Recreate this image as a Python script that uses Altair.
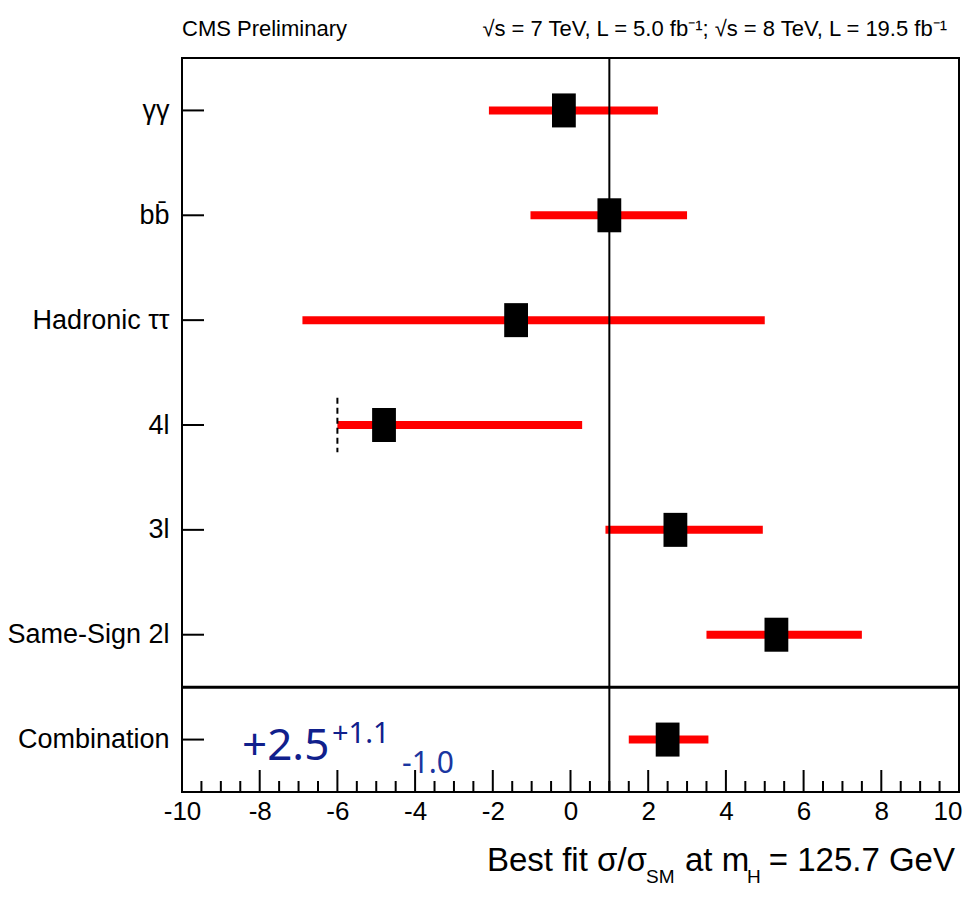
import json
import altair as alt
import pandas as pd

# ---- data ----
channels = ["γγ", "bb\u0304", "Hadronic ττ", "4l", "3l", "Same-Sign 2l", "Combination"]
best_fit = [-0.17, 1.0, -1.4, -4.8, 2.7, 5.3, 2.5]
err_low = [-2.1, -1.03, -6.9, -6.0, 0.9, 3.5, 1.5]
err_high = [2.25, 3.0, 5.0, 0.3, 4.95, 7.5, 3.55]
rows = list(range(len(channels)))

x_major = list(range(-10, 11, 2))
x_minor = [v / 2 for v in range(-20, 21) if v % 4 != 0]
sm_value = [1.0]
separator_row = [5.5]
limit_x = [-6.0]
limit_row = [3]

FONT = "Liberation Sans, Arial, Helvetica, sans-serif"
BLUE_FONT = "Noto Sans, Open Sans, sans-serif"

df = pd.DataFrame({"row": rows, "channel": channels, "best": best_fit,
                   "lo": err_low, "hi": err_high})

XS = alt.Scale(domain=[-10, 10], nice=False, zero=False)
YS = alt.Scale(domain=[-0.5, 6.5], reverse=True, nice=False, zero=False)

label_expr = json.dumps(channels, ensure_ascii=False) + "[datum.value]"
last_tick = x_major[-1]

base = alt.Chart(df)

bars = base.mark_rule(color="#ff0000", strokeWidth=8, strokeCap="butt").encode(
    x=alt.X("lo:Q", scale=XS,
            axis=alt.Axis(values=x_major, labelExpr="toString(datum.value)",
                          ticks=False, domain=False, grid=False, title=None,
                          labelFlush=False, labelOverlap=False,
                          labelAlign={"condition": {"test": f"datum.value == {last_tick}", "value": "right"},
                                      "value": "center"},
                          labelOffset={"condition": {"test": f"datum.value == {last_tick}", "value": 3},
                                       "value": 0},
                          labelFont=FONT, labelFontSize=26, labelPadding=6,
                          labelColor="black", labelFontWeight="normal")),
    x2="hi:Q",
    y=alt.Y("row:Q", scale=YS,
            axis=alt.Axis(values=rows, labelExpr=label_expr, ticks=False,
                          domain=False, grid=False, title=None, labelLimit=0,
                          labelFont=FONT, labelFontSize=27, labelPadding=13,
                          labelColor="black", labelFontWeight="normal")),
)

squares = base.mark_point(shape="M-0.7,-1H0.7V1H-0.7Z", filled=True, size=1156,
                          color="black", opacity=1).encode(
    x=alt.X("best:Q", scale=XS), y=alt.Y("row:Q", scale=YS))

ytick_len = 22 / 38.85
yticks = base.mark_rule(color="black", strokeWidth=2).encode(
    x=alt.datum(-10, scale=XS), x2=alt.datum(-10 + ytick_len),
    y=alt.Y("row:Q", scale=YS))

major_df = pd.DataFrame({"v": x_major})
minor_df = pd.DataFrame({"v": x_minor})
major_ticks = alt.Chart(major_df).mark_rule(color="black", strokeWidth=2).encode(
    x=alt.X("v:Q", scale=XS), y=alt.datum(6.5, scale=YS), y2=alt.datum(6.5 - 22 / 104.857))
minor_ticks = alt.Chart(minor_df).mark_rule(color="black", strokeWidth=2).encode(
    x=alt.X("v:Q", scale=XS), y=alt.datum(6.5, scale=YS), y2=alt.datum(6.5 - 11 / 104.857))

sm_line = alt.Chart(pd.DataFrame({"v": sm_value})).mark_rule(color="black", strokeWidth=2).encode(
    x=alt.X("v:Q", scale=XS))
sep_line = alt.Chart(pd.DataFrame({"r": separator_row})).mark_rule(color="black", strokeWidth=3).encode(
    y=alt.Y("r:Q", scale=YS))

limit = alt.Chart(pd.DataFrame({"x": limit_x, "r": limit_row})).mark_rule(
    color="black", strokeWidth=2, strokeDash=[6, 4]).encode(
    x=alt.X("x:Q", scale=XS),
    y=alt.Y("lo_r:Q", scale=YS), y2="hi_r:Q").transform_calculate(
    lo_r="datum.r - 0.26", hi_r="datum.r + 0.26")


def label(text, x, y, size, font=FONT, color="black", align="left"):
    return alt.Chart(pd.DataFrame({"t": [text]})).mark_text(
        font=font, fontSize=size, color=color, align=align, baseline="alphabetic"
    ).encode(text="t:N", x=alt.value(x), y=alt.value(y))


texts = [
    label("CMS Preliminary", 0, -22, 22),
    label("√s = 7 TeV, L = 5.0 fb⁻¹; √s = 8 TeV, L = 19.5 fb⁻¹", 765, -22, 22, align="right"),
    label("Best fit σ/σ", 305, 813, 33),
    label("SM", 464, 825, 19),
    label("at m", 503, 813, 33),
    label("H", 565, 825, 19),
    label("= 125.7 GeV", 773, 813, 33, align="right"),
    label("+2.5", 60, 702, 44, font=BLUE_FONT, color="#10208c"),
    label("+1.1", 150, 685, 29, font=BLUE_FONT, color="#10208c"),
    label("-1.0", 220, 715, 30, font=BLUE_FONT, color="#1a36a0"),
]

chart = alt.layer(
    bars, major_ticks, minor_ticks, yticks, sm_line, sep_line, limit, squares, *texts
).properties(
    width=777, height=734,
    autosize=alt.AutoSizeParams(type="none"),
    padding={"left": 174, "top": 50, "right": 5, "bottom": 98},
    background="white",
).configure_view(stroke="black", strokeWidth=2)

chart.save("out.html", embed_options={"renderer": "svg", "actions": False})
